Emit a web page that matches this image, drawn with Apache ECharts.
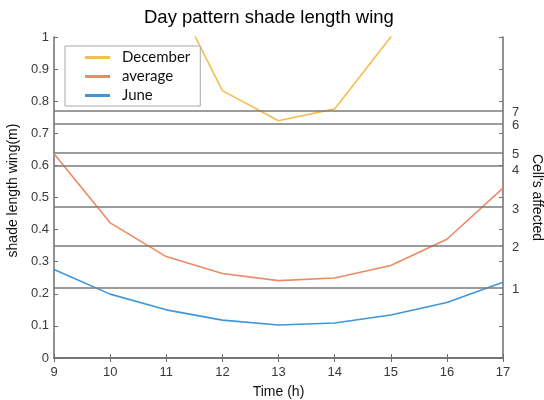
<!DOCTYPE html>
<html>
<head>
<meta charset="utf-8">
<script src="https://cdn.jsdelivr.net/npm/echarts@6/dist/echarts.min.js"></script>
<style>
  html, body { margin: 0; padding: 0; background: #fff; }
  #chart { width: 544px; height: 400px; }
</style>
</head>
<body>
<div id="chart"></div>
<script>
// Hours of the day
const hours = [9, 10, 11, 12, 13, 14, 15, 16, 17];

// Shade length of the wing (m) per hour
const december = [1.95, 1.55, 1.18, 0.833, 0.739, 0.776, 1.0, 1.35, 1.9];
const average  = [0.636, 0.421, 0.316, 0.263, 0.241, 0.249, 0.288, 0.370, 0.529];
const june     = [0.276, 0.199, 0.150, 0.118, 0.103, 0.109, 0.134, 0.173, 0.236];

// Shade length at which each additional cell is affected
const cellThresholds = [0.220, 0.349, 0.474, 0.603, 0.641, 0.729, 0.773];
const cellLabels     = ['1', '2', '3', '4', '5', '6', '7'];

const seriesNames = ['December', 'average', 'June'];
const seriesColors = ['#F4BE4F', '#EC8A66', '#3F97D8'];

const pairs = vals => hours.map((h, i) => [h, vals[i]]);

const axisGray = '#6e6e6e';
const textGray = '#3a3a3a';
const font = "'Liberation Sans', Arial, sans-serif";

const chart = echarts.init(document.getElementById('chart'), null, { renderer: 'canvas' });

const lineSeries = [december, average, june].map((vals, i) => ({
  name: seriesNames[i],
  type: 'line',
  data: pairs(vals),
  showSymbol: false,
  symbol: 'none',
  clip: true,
  lineStyle: { color: seriesColors[i], width: 1.6 },
  itemStyle: { color: seriesColors[i] },
  z: 3
}));

// Thresholds drawn as horizontal reference lines, numbered on the right
const thresholdSeries = {
  type: 'line',
  data: [],
  silent: true,
  z: 2,
  markLine: {
    silent: true,
    symbol: 'none',
    animation: false,
    lineStyle: { color: '#7a7a7a', width: 1.5, type: 'solid' },
    label: {
      show: true,
      position: 'end',
      distance: 9,
      color: textGray,
      fontFamily: font,
      fontSize: 13,
      formatter: p => cellLabels[p.dataIndex]
    },
    data: cellThresholds.map((v, i) => ({
      yAxis: v,
      label: { offset: cellLabels[i] === '4' ? [0, 5] : [0, 2] }
    }))
  }
};

chart.setOption({
  animation: false,
  backgroundColor: '#fff',
  title: {
    text: 'Day pattern shade length wing',
    left: 144,
    top: 8,
    padding: 0,
    textStyle: { fontFamily: font, fontSize: 18.5, fontWeight: 'normal', color: '#000' }
  },
  legend: {
    data: seriesNames,
    orient: 'vertical',
    left: 65,
    top: 46,
    backgroundColor: '#fff',
    borderColor: '#a8a8a8',
    borderWidth: 1,
    borderRadius: 0,
    padding: [3, 10, 2, 20],
    itemGap: 2,
    icon: 'rect',
    itemWidth: 25,
    itemHeight: 3,
    textStyle: {
      fontFamily: "Lato, 'Open Sans', sans-serif",
      fontSize: 15,
      lineHeight: 17,
      color: '#111',
      padding: [0, 0, 0, 7]
    }
  },
  grid: {
    left: 54, right: 41, top: 37, bottom: 42,
    containLabel: false,
    outerBoundsMode: 'none'
  },
  xAxis: [
    {
      type: 'value',
      min: 9, max: 17, interval: 1,
      name: 'Time (h)',
      nameLocation: 'middle',
      nameGap: 27,
      nameTextStyle: { fontFamily: font, fontSize: 14, color: '#111' },
      axisLine: { show: true, lineStyle: { color: axisGray, width: 1.5 } },
      axisTick: { show: true, inside: true, length: 4, lineStyle: { color: axisGray } },
      axisLabel: { margin: 8, fontFamily: font, fontSize: 13, color: textGray },
      splitLine: { show: false }
    },
    {
      type: 'value',
      position: 'top',
      min: 9, max: 17, interval: 1,
      axisLine: { show: true, lineStyle: { color: axisGray, width: 1.5 } },
      axisTick: { show: true, inside: true, length: 4, lineStyle: { color: axisGray } },
      axisLabel: { show: false },
      splitLine: { show: false }
    }
  ],
  yAxis: [
    {
      type: 'value',
      min: 0, max: 1, interval: 0.1,
      name: 'shade length wing(m)',
      nameLocation: 'middle',
      nameGap: 31,
      nameTextStyle: { fontFamily: font, fontSize: 14, color: '#111', padding: [0, 0, 0, 14] },
      axisLine: { show: true, lineStyle: { color: axisGray, width: 1.5 } },
      axisTick: { show: true, inside: true, length: 4, lineStyle: { color: axisGray } },
      axisLabel: {
        margin: 5, fontFamily: font, fontSize: 13, color: textGray,
        formatter: v => (Math.round(v * 10) / 10).toString()
      },
      splitLine: { show: false }
    },
    {
      type: 'value',
      position: 'right',
      min: 0, max: 1, interval: 0.1,
      name: "Cell's affected",
      nameLocation: 'middle',
      nameRotate: -90,
      nameGap: 27,
      nameTextStyle: { fontFamily: font, fontSize: 14, color: '#111' },
      axisLine: { show: true, lineStyle: { color: axisGray, width: 1.5 } },
      axisTick: { show: true, inside: true, length: 4, lineStyle: { color: axisGray } },
      axisLabel: { show: false },
      splitLine: { show: false }
    }
  ],
  series: [thresholdSeries, ...lineSeries]
});
</script>
</body>
</html>
